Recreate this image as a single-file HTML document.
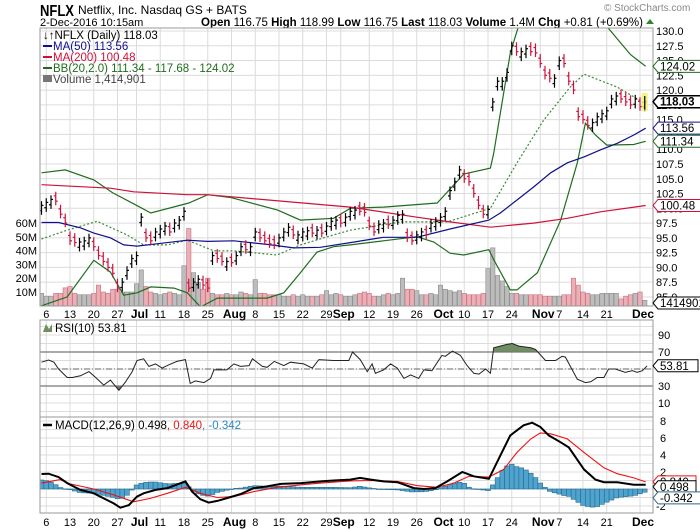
<!DOCTYPE html>
<html><head><meta charset="utf-8"><style>
body{margin:0;background:#fff;}
svg{display:block;font-family:"Liberation Sans",sans-serif;}
</style></head><body>
<svg id="chart" width="700" height="530" viewBox="0 0 700 530"></svg>
<script>
// ---- data ----
const closes=[100.5,101,101.5,101.2,99,97.5,94.5,94.2,94.3,94.5,95,93.5,92,91,90,89,86.5,87.5,89.5,91.5,92,98.5,95,94.5,96,96.5,97,96,97.5,98,99.5,86.5,87.5,88,87,86.5,92,91.5,91,91,90.8,92,93.5,93,93.5,96,95,94.5,94,93.8,95,96,96.8,95.5,95.5,96,96.2,95.8,96.3,95.8,97,97.8,98,97.5,98.5,99.5,99.7,99.5,99.3,97,96,97.3,97.5,97.2,98,98.8,99,95,94.5,95.5,96,95.5,97.5,97.8,98.5,99.5,103,104.5,106.5,105,104.5,102.5,100.5,99,99.8,118,121.5,121.5,123,127.5,126.5,126.5,127,126.5,126.3,124.5,122.5,122,122,125,124.5,121.5,120,115.5,115,114,114.5,115.5,116,116.5,118.5,119,118.5,118,117.5,118.5,117.2,118.03];
const volumes=[9,7,7,9,9,13,14,9,8,8,8,9,15,10,9,12,12,10,10,10,16,26,14,10,9,8,9,10,9,8,29,56,24,17,12,20,9,8,8,9,8,8,10,9,8,19,9,9,8,8,8,7,7,8,7,8,7,7,7,8,11,8,9,8,7,7,8,9,10,9,7,7,8,9,8,9,20,12,12,11,8,8,9,8,15,12,11,10,11,9,8,8,8,9,27,42,22,18,14,9,9,8,8,8,8,8,7,7,7,7,8,8,20,15,10,9,8,8,9,9,9,9,5,7,8,9,10,4];
const ma50Pts=[[0,97.6],[3.6,97.6],[8.2,96.7],[11,95.8],[14.5,95],[17.3,93.8],[20.1,93.6],[24.3,94],[30.7,94.6],[34.9,94.4],[40.5,94.5],[47.5,93.9],[53.1,93.3],[58.7,93.4],[65,94.2],[72,95.1],[79,95.1],[86,96.5],[94.2,98],[96.6,99.2],[100.1,101.4],[103.6,103.6],[107.2,106],[110.7,107.7],[114.2,108.7],[117.7,109.9],[121.2,111],[124.7,112.4],[127.2,113.56]];
const ma200Pts=[[0,104],[14.5,103.4],[19.4,102.8],[30.7,102.3],[34.9,102.3],[65,100.2],[79,98.5],[86,97.7],[94.5,96.8],[103.6,97.5],[110.7,98.3],[117.7,99.4],[127.2,100.48]];
const bbUpperPts=[[0,106],[5,106.5],[11,104.8],[15,102.6],[20,100.5],[23,99.2],[31,100.9],[35,102.3],[40,101.8],[49.7,99.7],[54.5,98],[61.5,98.3],[65,100],[72,100.2],[83.3,100.9],[88.9,105.8],[94.5,106.8],[95.2,109.3],[98.7,126.3],[100.8,131.8],[104,135],[110,136],[116,133],[119.1,130.7],[124,126],[127.2,124.02]];
const bbMidPts=[[0,94.8],[5.4,96.3],[11.7,97.8],[18,95.5],[21.5,93.8],[26.5,93.8],[30.7,94.6],[36.3,92.8],[40.5,92.8],[49.6,92.1],[54.5,93.8],[61.5,95.5],[65,96.3],[75.6,97.7],[85.4,97.7],[94.5,100],[100.1,107.7],[105.7,114.9],[111.3,120.5],[114.2,122.7],[121.2,120.5],[127.2,117.68]];
const bbLowerPts=[[0,83.5],[5.4,85],[11,91.2],[14.5,89.2],[17.3,85.3],[20.1,85.7],[23,86.7],[27.9,86.5],[30.7,85.7],[33.5,83.3],[37,84.8],[47.5,84.8],[51,85.7],[54.5,89.1],[58,92.6],[61.5,93.5],[65,93.8],[72,94.5],[79,95.2],[82.6,94.3],[86,92.4],[88.9,92.1],[94.2,93],[95.2,91.3],[98.7,86.2],[100.1,86.2],[104.4,89.1],[109.3,98],[112.8,107.7],[114.5,114.4],[116.6,112.4],[119,110.7],[124.7,110.8],[127.2,111.34]];
const rsiPts=[[0,58],[1.5,60.6],[2.6,58],[3.6,50],[5.4,40],[6.5,40],[8.2,42],[10,47],[11.4,40],[13.1,31],[14.5,37],[16.3,25],[17.7,35],[19.1,47],[20.1,60],[21.5,62],[22.6,53],[24,56],[25.4,51],[26.8,55],[28.5,59],[30.3,61],[31.3,33],[32.4,36],[34.2,34],[35.6,39],[36.3,49],[39,49],[40.5,56],[41.9,53],[43.7,54],[44.4,62],[46.5,53],[47.5,52],[49,59],[51,54],[52.4,58],[55.2,56],[57,51],[58.4,61],[61.5,60],[64.7,60],[65.5,70],[67.1,61],[68.6,47],[69.6,56],[70.3,45],[72,49],[73.5,56],[74.9,51],[76.3,39],[77.7,43],[79.4,39],[80.5,49],[82.2,48],[84.3,66],[85,65],[86.5,71],[88.2,66],[89.6,54],[91,45],[92.1,44],[93.5,50],[94.5,45],[95.2,75],[98,79],[99.1,80],[100.5,77],[103,75],[104,73],[106.1,60],[108.2,60],[109.6,65],[110.3,64],[112.8,38],[114.5,34],[115.6,35],[117,40],[118.4,40],[119.4,50],[120.8,50],[122.9,46],[124.4,48],[125.4,46],[126.5,48],[127.5,53.81]];
const macdPts=[[0,1.76],[1.5,1.8],[3.6,1.4],[5.4,0.7],[8.2,-0.1],[11,-0.5],[13.1,-1.1],[15.2,-1.7],[16.6,-2.2],[18.4,-1.9],[20.1,-0.9],[21.5,-0.5],[24,-0.1],[26.5,0.1],[30.3,0.9],[31.7,-0.3],[33.4,-1.2],[35.2,-1.6],[37,-1.4],[39.5,-1.0],[41.9,-0.6],[44.7,0.1],[47.5,0.3],[50.4,0.6],[54.6,0.7],[58.8,0.9],[61.5,1.0],[65,1.1],[67.1,1.3],[69.3,1.1],[72,0.9],[74.9,0.8],[78.4,0.1],[80.5,0],[82.9,0.1],[85.4,0.9],[88.6,2.0],[91,1.5],[94.2,1.2],[96.3,3.6],[98.7,6.3],[101.5,7.5],[103.3,7.8],[105,7.3],[106.8,6.3],[109.3,5.5],[111,4.9],[114.2,2.3],[116.6,1.1],[118.4,0.8],[121.2,0.8],[124.7,0.5],[127.2,0.498]];
const signalPts=[[0,0.7],[3.9,1.1],[6,0.6],[11,0],[15.2,-0.7],[19.4,-1.5],[22.9,-1.1],[26.5,-0.5],[30.3,0.2],[33.4,-0.5],[37,-1.0],[40.5,-0.9],[44.7,-0.3],[49.6,0.2],[54.6,0.5],[58.8,0.7],[65,0.95],[69.3,1.0],[74.9,0.9],[79,0.4],[83.3,0.2],[86.8,0.7],[90,1.5],[94.2,1.4],[97.3,2.3],[100.1,4.3],[103,5.9],[105,6.6],[107.2,6.5],[110.7,5.9],[114.2,4.3],[118.4,2.5],[121.2,1.8],[124.7,1.3],[127.2,0.84]];
const dateTicks=[[1,"6"],[6,"13"],[11,"20"],[16,"27"],[20,"Jul"],[25,"11"],[30,"18"],[35,"25"],[40,"Aug"],[45,"8"],[50,"15"],[55,"22"],[60,"29"],[63,"Sep"],[69,"12"],[74,"19"],[79,"26"],[84,"Oct"],[89,"10"],[94,"17"],[99,"24"],[105,"Nov"],[109,"7"],[114,"14"],[119,"21"],[126,"Dec"]];
const priceTicks=[130,127.5,125,122.5,120,117.5,115,112.5,110,107.5,105,102.5,100,97.5,95,92.5,90,87.5,85];
const volTicks=[10,20,30,40,50,60];
const rsiTicks=[90,70,30,10];
const macdTicks=[8,6,4,2,-2];

// ---- scales ----
const L=40,R=653;
const x=i=>41.5+4.75*i;
const yP=p=>31+(130-p)*5.91;
const yV=v=>305.8-v*1.38;
const yR=v=>335+(90-v)*0.85;
const yM=v=>489-v*8.5;
const NS="http://www.w3.org/2000/svg";
const svg=document.getElementById('chart');
function el(tag,attrs,parent){const e=document.createElementNS(NS,tag);for(const k in attrs)e.setAttribute(k,attrs[k]);(parent||svg).appendChild(e);return e;}
function txt(s,attrs,parent){const e=el('text',attrs,parent);e.textContent=s;return e;}
function interp(pts,i){if(i<=pts[0][0])return pts[0][1];for(let k=1;k<pts.length;k++){if(i<=pts[k][0]){const a=pts[k-1],b=pts[k];return a[1]+(b[1]-a[1])*(i-a[0])/(b[0]-a[0]);}}return pts[pts.length-1][1];}
function pathOf(pts,ys){return pts.map((p,k)=>(k?'L':'M')+x(p[0]).toFixed(1)+','+ys(p[1]).toFixed(1)).join(' ');}

const defs=el('defs',{});
const c1=el('clipPath',{id:'cMain'},defs);el('rect',{x:L,y:28,width:R-L,height:278},c1);
const c2=el('clipPath',{id:'cRsi'},defs);el('rect',{x:L,y:320,width:R-L,height:97},c2);
const c3=el('clipPath',{id:'cMacd'},defs);el('rect',{x:L,y:417,width:R-L,height:96},c3);

// ---- header ----
let t;
t=txt('NFLX',{x:40,y:16,'font-size':16,'font-weight':'bold',fill:'#000',textLength:34,lengthAdjust:'spacingAndGlyphs'});

t=txt('Netflix, Inc. Nasdaq GS + BATS',{x:78,y:14,'font-size':12,fill:'#000'});

t=txt('© StockCharts.com',{x:604,y:11,'font-size':10,fill:'#888'});

t=txt('2-Dec-2016 10:15am',{x:40,y:26,'font-size':11,fill:'#000'});

t=el('text',{x:201,y:26,'font-size':11.5,fill:'#000'});
t.innerHTML='<tspan font-weight="bold">Open</tspan> 116.75 <tspan font-weight="bold">High</tspan> 118.99 <tspan font-weight="bold">Low</tspan> 116.75 <tspan font-weight="bold">Last</tspan> 118.03 <tspan font-weight="bold">Volume</tspan> 1.4M <tspan font-weight="bold">Chg</tspan> +0.81 (+0.69%)';

t=el('path',{d:'M646,24 L654,24 L650,19 Z',fill:'#2a8a2a'});


// ---- grid ----
const grid=el('g',{stroke:'#dcdcdc','stroke-width':1});

dateTicks.forEach(d=>{[[28,306],[320,417],[417,513]].forEach(r=>el('line',{x1:x(d[0]),x2:x(d[0]),y1:r[0],y2:r[1]},grid));});
priceTicks.forEach(p=>el('line',{x1:L,x2:R,y1:yP(p),y2:yP(p)},grid));
for(let v=0;v<=100;v+=10)el('line',{x1:L,x2:R,y1:yR(v),y2:yR(v)},grid);
for(let v=-2;v<=8;v+=1)el('line',{x1:L,x2:R,y1:yM(v),y2:yM(v)},grid);

// ---- volume ----
const volG=el('g',{'clip-path':'url(#cMain)'});

volumes.forEach((v,i)=>{const up=i===0||closes[i]>=closes[i-1];
 const r=el('rect',{x:x(i)-2.2,y:yV(v),width:4.4,height:305.8-yV(v),fill:up?'#bdbdbd':'#eab0b6',stroke:up?'#8a8a8a':'#cc7080','stroke-width':0.6},volG);
 });

// ---- overlays ----
const ov=el('g',{'clip-path':'url(#cMain)',fill:'none'});
let p;
p=el('path',{d:pathOf(bbUpperPts,yP),stroke:'#1e6e1e','stroke-width':1.2},ov);
p=el('path',{d:pathOf(bbLowerPts,yP),stroke:'#1e6e1e','stroke-width':1.2},ov);
p=el('path',{d:pathOf(bbMidPts,yP),stroke:'#3a8a3a','stroke-width':1.2,'stroke-dasharray':'2,2'},ov);
p=el('path',{d:pathOf(ma200Pts,yP),stroke:'#d0103a','stroke-width':1.2},ov);
p=el('path',{d:pathOf(ma50Pts,yP),stroke:'#10108a','stroke-width':1.2},ov);

// ---- price bars ----
const pb=el('g',{'clip-path':'url(#cMain)','stroke-width':1.2});

closes.forEach((c,i)=>{const up=i===0||c>=closes[i-1];const col=up?'#000':'#d0103a';
 const o=up?c-0.9:c+0.9;const hi=Math.max(o,c)+0.7,lo=Math.min(o,c)-0.7;const xi=x(i);
 const g=el('g',{stroke:col},pb);
 
 el('line',{x1:xi,x2:xi,y1:yP(hi),y2:yP(lo)},g);
 el('line',{x1:xi-2,x2:xi,y1:yP(o),y2:yP(o)},g);
 el('line',{x1:xi,x2:xi+2,y1:yP(c),y2:yP(c)},g);});
el('rect',{x:x(127)-3,y:yP(119.5),width:6,height:yP(116.5)-yP(119.5),fill:'#f4f060',opacity:0.8});
el('line',{x1:x(127),x2:x(127),y1:yP(119),y2:yP(116.7),stroke:'#000','stroke-width':1.2});

// ---- RSI ----
const rg=el('g',{'clip-path':'url(#cRsi)'});

function fillRegion(pts,thr,above,color){let seg=[];const segs=[];for(let i=0;i<=127.5;i+=0.25){const v=interp(pts,i);const ok=above?v>thr:v<thr;if(ok)seg.push([i,v]);else if(seg.length){segs.push(seg);seg=[];}}if(seg.length)segs.push(seg);
 segs.forEach(s=>{let d='M'+x(s[0][0])+','+yR(thr);s.forEach(q=>d+=' L'+x(q[0]).toFixed(1)+','+yR(q[1]).toFixed(1));d+=' L'+x(s[s.length-1][0])+','+yR(thr)+'Z';const f=el('path',{d:d,fill:color},rg);});}
fillRegion(rsiPts,70,true,'#6f8f60');
fillRegion(rsiPts,30,false,'#8a6a6a');
el('line',{x1:L,x2:R,y1:yR(70),y2:yR(70),stroke:'#777','stroke-width':1.2},rg);
el('line',{x1:L,x2:R,y1:yR(30),y2:yR(30),stroke:'#777','stroke-width':1.2},rg);
el('line',{x1:L,x2:R,y1:yR(50),y2:yR(50),stroke:'#666','stroke-width':1,'stroke-dasharray':'6,2,1,2'},rg);
p=el('path',{d:pathOf(rsiPts,yR),stroke:'#222','stroke-width':1,fill:'none'},rg);

// ---- MACD ----
const mg=el('g',{'clip-path':'url(#cMacd)'});

for(let i=0;i<128;i++){const h=interp(macdPts,i)-interp(signalPts,i);const y0=yM(0),y1=yM(h);
 const r=el('rect',{x:x(i)-2.37,y:Math.min(y0,y1),width:4.75,height:Math.max(0.5,Math.abs(y1-y0)),fill:'#4fa3cf',stroke:'#276a8e','stroke-width':0.6},mg);
 }
p=el('path',{d:pathOf(signalPts,yM),stroke:'#ee1111','stroke-width':1.1,fill:'none'},mg);
p=el('path',{d:pathOf(macdPts,yM),stroke:'#000','stroke-width':2,fill:'none'},mg);

// ---- frames ----
[[28,306],[320,417],[417,513]].forEach((r,k)=>{const f=el('rect',{x:L,y:r[0],width:R-L,height:r[1]-r[0],fill:'none',stroke:'#999','stroke-width':1});
 });

// ---- axis labels ----
[318,526].forEach((yy,k)=>dateTicks.forEach(d=>{const isM=isNaN(+d[1]);
 const e=txt(d[1],{x:x(d[0])+(isM?3:0),y:yy,'font-size':isM?12:11,'font-weight':isM?'bold':'normal','text-anchor':'middle',fill:'#000'});
 }));
priceTicks.forEach(v=>{const e=txt(v.toFixed(1),{x:656,y:yP(v)+4,'font-size':11,fill:'#000'});});
volTicks.forEach(v=>{const e=txt(v+'M',{x:37,y:yV(v)+4,'font-size':11,'text-anchor':'end',fill:'#000'});});
rsiTicks.forEach(v=>{const e=txt(String(v),{x:658,y:yR(v)+4,'font-size':11,fill:'#000'});});
macdTicks.forEach(v=>{const e=txt(String(v),{x:v<0?656:660,y:yM(v)+4,'font-size':11,fill:'#000'});});

function tag(label,yc,color,bold,name,w){const g=el('g',{});
 w=w||46;el('path',{d:`M653,${yc} L658,${yc-6} L${658+w},${yc-6} L${658+w},${yc+6} L658,${yc+6} Z`,fill:'#fff',stroke:color,'stroke-width':bold?1.5:1},g);
 txt(label,{x:660,y:yc+4,'font-size':11.5,'font-weight':bold?'bold':'normal',fill:'#000'},g);}
tag('124.02',yP(124.02),'#1e6e1e',false,'bb-upper-tag');
tag('118.03',yP(118.03),'#000',true,'last-price-tag');
tag('113.56',yP(113.56),'#10108a',false,'ma50-tag');
tag('111.34',yP(111.34),'#1e6e1e',false,'bb-lower-tag');
tag('100.48',yP(100.48),'#d0103a',false,'ma200-tag');
tag('1414901',303,'#000',false,'volume-tag',44);
tag('53.81',yR(53.81),'#000',false,'rsi-tag',40);
tag('0.840',yM(0.84),'#ee1111',false,'signal-tag',38);
tag('0.498',yM(0.498)+2,'#000',false,'macd-tag',38);
tag('-0.342',yM(-0.342)+6,'#276a8e',false,'histogram-tag',44);

// ---- legends ----
const lg=el('g',{'font-size':11.5});

txt('↓↑NFLX (Daily) 118.03',{x:43,y:39,fill:'#000'},lg);
el('line',{x1:43,x2:52,y1:46,y2:46,stroke:'#10108a','stroke-width':2},lg);txt('MA(50) 113.56',{x:53,y:50,fill:'#10108a'},lg);
el('line',{x1:43,x2:52,y1:57,y2:57,stroke:'#d0103a','stroke-width':2},lg);txt('MA(200) 100.48',{x:53,y:61,fill:'#d0103a'},lg);
el('line',{x1:43,x2:52,y1:68,y2:68,stroke:'#1e6e1e','stroke-width':2},lg);txt('BB(20,2.0) 111.34 - 117.68 - 124.02',{x:53,y:72,fill:'#1e6e1e'},lg);
el('rect',{x:43,y:75,width:9,height:7,fill:'#777'},lg);txt('Volume 1,414,901',{x:53,y:83,fill:'#444'},lg);
const rl=el('g',{'font-size':11.5});
el('path',{d:'M43,332 L46,324 L49,329 L52,324 L52,332 Z',fill:'#6f8f60'},rl);
txt('RSI(10) 53.81',{x:55,y:332,fill:'#000'},rl);
const ml=el('g',{'font-size':11.5});
el('line',{x1:43,x2:52,y1:425,y2:425,stroke:'#000','stroke-width':2.5},ml);
const mt=el('text',{x:55,y:429,fill:'#000'},ml);
mt.innerHTML='MACD(12,26,9) 0.498<tspan fill="#ee1111">, 0.840</tspan><tspan fill="#2a8ac8">, -0.342</tspan>';
</script>
</body></html>
